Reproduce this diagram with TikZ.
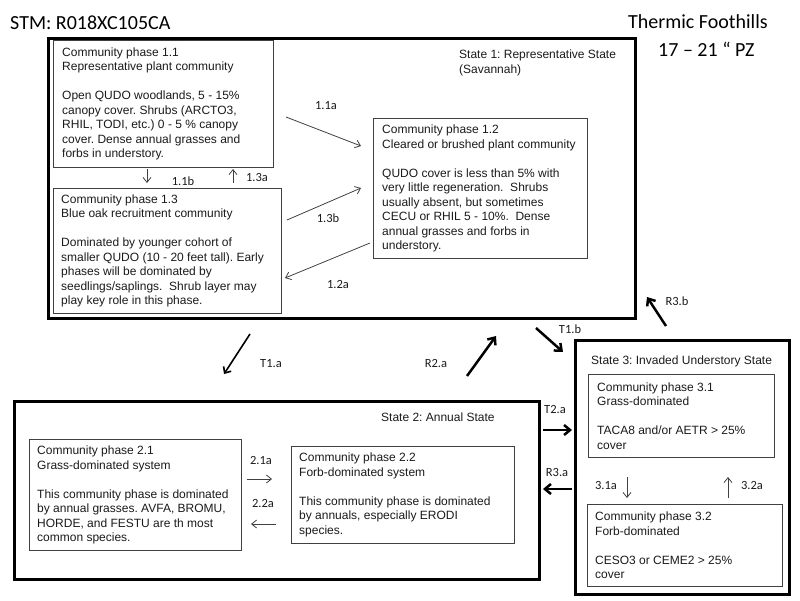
\documentclass[tikz,border=0pt]{standalone}
\usepackage{fontspec}
\setmainfont{Liberation Sans}
\newfontfamily\calfont{Carlito}
\usetikzlibrary{arrows.meta}
\definecolor{boxgray}{HTML}{404040}
\definecolor{txtgray}{HTML}{1A1A1A}
\frenchspacing
\begin{document}
\begin{tikzpicture}[x=1pt,y=-1pt,
  statebox/.style={draw=black, line width=3pt, inner sep=0pt, anchor=north west},
  phasebox/.style={draw=boxgray, line width=1.1pt, inner sep=0pt, anchor=north west},
  phasetext/.style={align=left, inner sep=0pt, anchor=west, text=txtgray, font=\fontsize{12}{14.5}\selectfont},
  statelabel/.style={align=left, inner sep=0pt, text=txtgray, font=\fontsize{12}{14.5}\selectfont},
  arrlabel/.style={inner sep=0pt, text height=8pt, text depth=0pt, font=\calfont\fontsize{12.5}{14}\selectfont, text=txtgray},
  titletext/.style={inner sep=0pt, anchor=base west, font=\calfont\fontsize{20}{24}\selectfont},
  thinarrow/.style={draw=boxgray, line width=0.8pt, -{Straight Barb[length=5pt,width=8pt]}},
  medarrow/.style={draw=black, line width=1.6pt, -{Straight Barb[length=5pt,width=9pt]}},
  thickarrow/.style={draw=black, line width=2.5pt, -{Straight Barb[length=6pt,width=10pt]}},
]
\useasboundingbox (0,0) rectangle (800,600);

% titles
\node[titletext] (stm) at (10,29) {STM: R018XC105CA};
\node[titletext] (thermic) at (628,28) {Thermic Foothills};
\node[titletext] (pz) at (658,56) {17 – 21 “ PZ};

% state boxes
\node[statebox, minimum width=587pt, minimum height=280pt] (s1) at (47,37) {};
\node[statebox, minimum width=525pt, minimum height=178pt] (s2) at (13,400) {};
\node[statebox, minimum width=214pt, minimum height=254pt] (s3) at (574,339) {};

\node[statelabel, anchor=north west] (s1lab) at (459,49.7) {State 1: Representative State\\(Savannah)};
\node[statelabel, anchor=west] (s2lab) at (381,417) {State 2: Annual State};
\node[statelabel, anchor=base west] (s3lab) at (591,364.3) {State 3: Invaded Understory State};

% phase boxes
\node[phasebox, minimum width=220pt, minimum height=127pt] (p11) at (53,40) {};
\node[phasetext] (t11) at ([xshift=9pt]p11.west) {Community phase 1.1\\Representative plant community\\[14.5pt]Open QUDO woodlands, 5 - 15\%\\canopy cover. Shrubs (ARCTO3,\\RHIL, TODI, etc.) 0 - 5 \% canopy\\cover. Dense annual grasses and\\forbs in understory.};

\node[phasebox, minimum width=214pt, minimum height=140pt] (p12) at (373,118) {};
\node[phasetext] (t12) at ([xshift=9pt]p12.west) {Community phase 1.2\\Cleared or brushed plant community\\[14.5pt]QUDO cover is less than 5\% with\\very little regeneration.\ \ Shrubs\\usually absent, but sometimes\\CECU or RHIL 5 - 10\%.\ \ Dense\\annual grasses and forbs in\\understory.};

\node[phasebox, minimum width=228pt, minimum height=125pt] (p13) at (53,188) {};
\node[phasetext] (t13) at ([xshift=8pt]p13.west) {Community phase 1.3\\Blue oak recruitment community\\[14.5pt]Dominated by younger cohort of\\smaller QUDO (10 - 20 feet tall). Early\\phases will be dominated by\\seedlings/saplings.\ \ Shrub layer may\\play key role in this phase.};

\node[phasebox, minimum width=212pt, minimum height=111pt] (p21) at (29,439) {};
\node[phasetext] (t21) at ([xshift=8pt]p21.west) {Community phase 2.1\\Grass-dominated system\\[14.5pt]This community phase is dominated\\by annual grasses. AVFA, BROMU,\\HORDE, and FESTU are th most\\common species.};

\node[phasebox, minimum width=223pt, minimum height=97pt] (p22) at (291,446) {};
\node[phasetext] (t22) at ([xshift=8pt]p22.west) {Community phase 2.2\\Forb-dominated system\\[14.5pt]This community phase is dominated\\by annuals, especially ERODI\\species.};

\node[phasebox, minimum width=186pt, minimum height=83pt] (p31) at (588,374) {};
\node[phasetext] (t31) at ([xshift=9pt]p31.west) {Community phase 3.1\\Grass-dominated\\[14.5pt]TACA8 and/or AETR > 25\%\\cover};

\node[phasebox, minimum width=195pt, minimum height=82pt] (p32) at (587,504) {};
\node[phasetext] (t32) at ([xshift=8pt]p32.west) {Community phase 3.2\\Forb-dominated\\[14.5pt]CESO3 or CEME2 > 25\%\\cover};

% arrow end points
\coordinate (a11s) at (286,117); \coordinate (a11e) at (361,146);
\coordinate (a13s) at (287,220); \coordinate (a13e) at (361,188);
\coordinate (a12s) at (370,243); \coordinate (a12e) at (285,278);
\coordinate (b11s) at (147,169); \coordinate (b11e) at (147,183);
\coordinate (b13s) at (233,183); \coordinate (b13e) at (233,169);
\coordinate (t1as) at (250,334); \coordinate (t1ae) at (224,374);
\coordinate (r2as) at (467,376); \coordinate (r2ae) at (496,336);
\coordinate (t1bs) at (536,328); \coordinate (t1be) at (563,352);
\coordinate (r3bs) at (666,326); \coordinate (r3be) at (647,297);
\coordinate (t2as) at (543,430); \coordinate (t2ae) at (572,430);
\coordinate (r3as) at (572,489); \coordinate (r3ae) at (543,489);
\coordinate (c31s) at (627,477); \coordinate (c31e) at (627,498);
\coordinate (c32s) at (728,498); \coordinate (c32e) at (728,477);
\coordinate (c21s) at (247,479); \coordinate (c21e) at (272,479);
\coordinate (c22s) at (276,524); \coordinate (c22e) at (251,524);

\draw[thinarrow] (a11s) -- (a11e);
\draw[thinarrow] (a13s) -- (a13e);
\draw[thinarrow] (a12s) -- (a12e);
\draw[thinarrow] (b11s) -- (b11e);
\draw[thinarrow] (b13s) -- (b13e);
\draw[medarrow] (t1as) -- (t1ae);
\draw[thickarrow] (r2as) -- (r2ae);
\draw[thickarrow] (t1bs) -- (t1be);
\draw[thickarrow] (r3bs) -- (r3be);
\draw[thickarrow] (t2as) -- (t2ae);
\draw[thickarrow] (r3as) -- (r3ae);
\draw[thinarrow] (c31s) -- (c31e);
\draw[thinarrow] (c32s) -- (c32e);
\draw[thinarrow] (c21s) -- (c21e);
\draw[thinarrow] (c22s) -- (c22e);

% arrow labels
\node[arrlabel] (l11a) at (326,105) {1.1a};
\node[arrlabel] (l13b) at (328,218) {1.3b};
\node[arrlabel] (l12a) at (338,284) {1.2a};
\node[arrlabel] (l11b) at (183,181) {1.1b};
\node[arrlabel] (l13a) at (257,177) {1.3a};
\node[arrlabel] (lt1a) at (271,363) {T1.a};
\node[arrlabel] (lr2a) at (436,363) {R2.a};
\node[arrlabel] (lt1b) at (570,329) {T1.b};
\node[arrlabel] (lr3b) at (677,301) {R3.b};
\node[arrlabel] (lt2a) at (555,409) {T2.a};
\node[arrlabel] (lr3a) at (557,472) {R3.a};
\node[arrlabel] (l31a) at (606,485) {3.1a};
\node[arrlabel] (l32a) at (752,485) {3.2a};
\node[arrlabel] (l21a) at (261,460) {2.1a};
\node[arrlabel] (l22a) at (263,503) {2.2a};
\end{tikzpicture}
\end{document}
